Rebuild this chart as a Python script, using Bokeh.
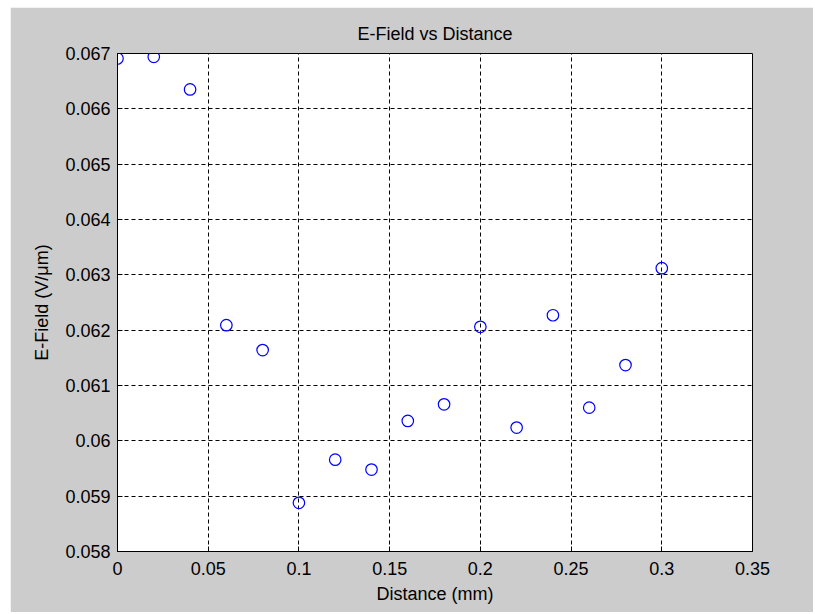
from bokeh.plotting import figure
from bokeh.models import ColumnDataSource, FixedTicker, Range1d
from bokeh.embed import file_html
from bokeh.resources import INLINE

# ---- data ----
distance_mm = [0.0, 0.02, 0.04, 0.06, 0.08, 0.10, 0.12, 0.14, 0.16, 0.18,
               0.20, 0.22, 0.24, 0.26, 0.28, 0.30]
efield = [0.06691, 0.06694, 0.06635, 0.06209, 0.06164, 0.05888, 0.05966, 0.05948,
          0.06036, 0.06066, 0.06206, 0.06024, 0.06227, 0.06060, 0.06137, 0.06312]

x_ticks = [0.0, 0.05, 0.10, 0.15, 0.20, 0.25, 0.30, 0.35]
x_tick_labels = ["0", "0.05", "0.1", "0.15", "0.2", "0.25", "0.3", "0.35"]
y_ticks = [0.058, 0.059, 0.060, 0.061, 0.062, 0.063, 0.064, 0.065, 0.066, 0.067]
y_tick_labels = ["0.058", "0.059", "0.06", "0.061", "0.062", "0.063", "0.064",
                 "0.065", "0.066", "0.067"]

FONT = "Liberation Sans"

p = figure(width=803, height=605, output_backend="svg", toolbar_location=None,
           x_range=Range1d(0, 0.35), y_range=Range1d(0.058, 0.067),
           min_border_left=107, min_border_top=46, min_border_right=61,
           min_border_bottom=61, title="E-Field vs Distance")
p.styles = {"margin-left": "10px", "margin-top": "7px"}

p.background_fill_color = "white"
p.border_fill_color = "#cccccc"
p.outline_line_color = "black"
p.outline_line_width = 1

p.title.align = "center"
p.title.text_font = FONT
p.title.text_font_size = "18px"
p.title.text_font_style = "normal"
p.title.text_color = "black"
p.title.standoff = 20

src = ColumnDataSource(dict(x=distance_mm, y=efield))
p.scatter("x", "y", source=src, marker="circle", size=11.5, fill_color=None,
          line_color="#0000ff", line_width=1.2)

for ax, ticks, labels in ((p.xaxis[0], x_ticks, x_tick_labels),
                          (p.yaxis[0], y_ticks, y_tick_labels)):
    ax.ticker = FixedTicker(ticks=ticks)
    ax.major_label_overrides = {t: l for t, l in zip(ticks, labels)}
    ax.minor_tick_line_color = None
    ax.major_tick_in = 5
    ax.major_tick_out = 0
    ax.major_tick_line_color = "black"
    ax.axis_line_color = "black"
    ax.major_label_text_font = FONT
    ax.major_label_text_font_size = "18px"
    ax.major_label_text_color = "black"
    ax.axis_label_text_font = FONT
    ax.axis_label_text_font_size = "18px"
    ax.axis_label_text_font_style = "normal"
    ax.axis_label_text_color = "black"

p.xaxis.axis_label = "Distance (mm)"
p.yaxis.axis_label = "E-Field (V/\u03bcm)"
p.xaxis.major_label_standoff = 10
p.xaxis.axis_label_standoff = 6
p.yaxis.major_label_standoff = 7
p.yaxis.axis_label_standoff = 10

p.grid.grid_line_color = "black"
p.grid.grid_line_dash = "4 3"
p.grid.grid_line_width = 1
p.grid.grid_line_alpha = 1.0

open("out.html", "w").write(file_html(p, INLINE))
